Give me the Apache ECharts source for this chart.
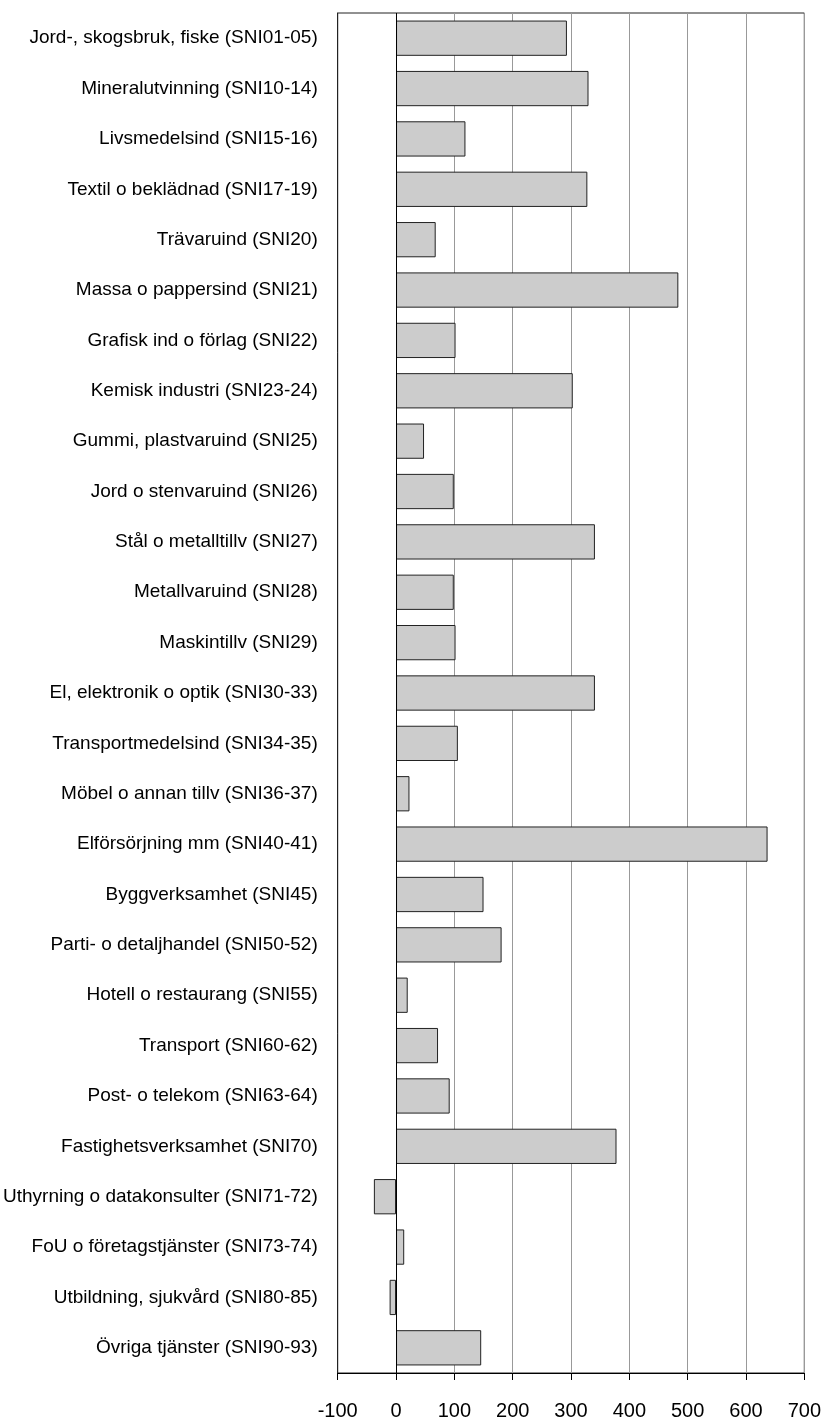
<!DOCTYPE html>
<html>
<head>
<meta charset="utf-8">
<script src="https://cdn.jsdelivr.net/npm/echarts@6/dist/echarts.min.js"></script>
<style>
  html, body { margin: 0; padding: 0; background: #fff; }
  #chart { width: 824px; height: 1421px; }
</style>
</head>
<body>
<div id="chart"></div>
<script>
var categories = [
  'Jord-, skogsbruk, fiske (SNI01-05)',
  'Mineralutvinning (SNI10-14)',
  'Livsmedelsind (SNI15-16)',
  'Textil o beklädnad (SNI17-19)',
  'Trävaruind (SNI20)',
  'Massa o pappersind (SNI21)',
  'Grafisk ind o förlag (SNI22)',
  'Kemisk industri (SNI23-24)',
  'Gummi, plastvaruind (SNI25)',
  'Jord o stenvaruind (SNI26)',
  'Stål o metalltillv (SNI27)',
  'Metallvaruind (SNI28)',
  'Maskintillv (SNI29)',
  'El, elektronik o optik (SNI30-33)',
  'Transportmedelsind (SNI34-35)',
  'Möbel o annan tillv (SNI36-37)',
  'Elförsörjning mm (SNI40-41)',
  'Byggverksamhet (SNI45)',
  'Parti- o detaljhandel (SNI50-52)',
  'Hotell o restaurang (SNI55)',
  'Transport (SNI60-62)',
  'Post- o telekom (SNI63-64)',
  'Fastighetsverksamhet (SNI70)',
  'Uthyrning o datakonsulter (SNI71-72)',
  'FoU o företagstjänster (SNI73-74)',
  'Utbildning, sjukvård (SNI80-85)',
  'Övriga tjänster (SNI90-93)'
];

var values = [293, 330, 119, 328, 68, 484, 102, 303, 48, 99, 341, 99, 102, 341, 106,
              23, 637, 150, 181, 20, 72, 92, 378, -38, 14, -11, 146];

var axisMin = -100;
var axisMax = 700;
var axisStep = 100;

var fontName = '"Liberation Sans Narrow", "Arial Narrow", "Liberation Sans", sans-serif';

var chart = echarts.init(document.getElementById('chart'));
var option = {
  animation: false,
  backgroundColor: '#fff',
  grid: {
    left: 336,
    right: 19,
    top: 13,
    bottom: 47,
    show: true,
    borderColor: '#222',
    borderWidth: 1
  },
  xAxis: {
    type: 'value',
    min: axisMin,
    max: axisMax,
    interval: axisStep,
    axisLine: { show: true, lineStyle: { color: '#000', width: 1 } },
    axisTick: { show: true, length: 7, lineStyle: { color: '#000' } },
    axisLabel: {
      color: '#000',
      fontSize: 20,
      fontFamily: fontName,
      margin: 28
    },
    splitLine: { show: true, lineStyle: { color: '#999', width: 1 } }
  },
  yAxis: {
    type: 'category',
    data: categories,
    inverse: true,
    axisLine: { show: true, onZero: false, lineStyle: { color: '#222' } },
    axisTick: { show: false },
    axisLabel: {
      color: '#000',
      fontSize: 19,
      fontFamily: fontName,
      margin: 20
    },
    splitLine: { show: false }
  },
  series: [
    {
      type: 'bar',
      data: values,
      barWidth: '70%',
      itemStyle: {
        color: '#cccccc',
        borderColor: '#222',
        borderWidth: 1
      },
      markLine: {
        silent: true,
        symbol: 'none',
        label: { show: false },
        lineStyle: { color: '#000', type: 'solid', width: 1 },
        data: [{ xAxis: 0 }]
      }
    }
  ]
};
chart.setOption(option);
</script>
</body>
</html>
